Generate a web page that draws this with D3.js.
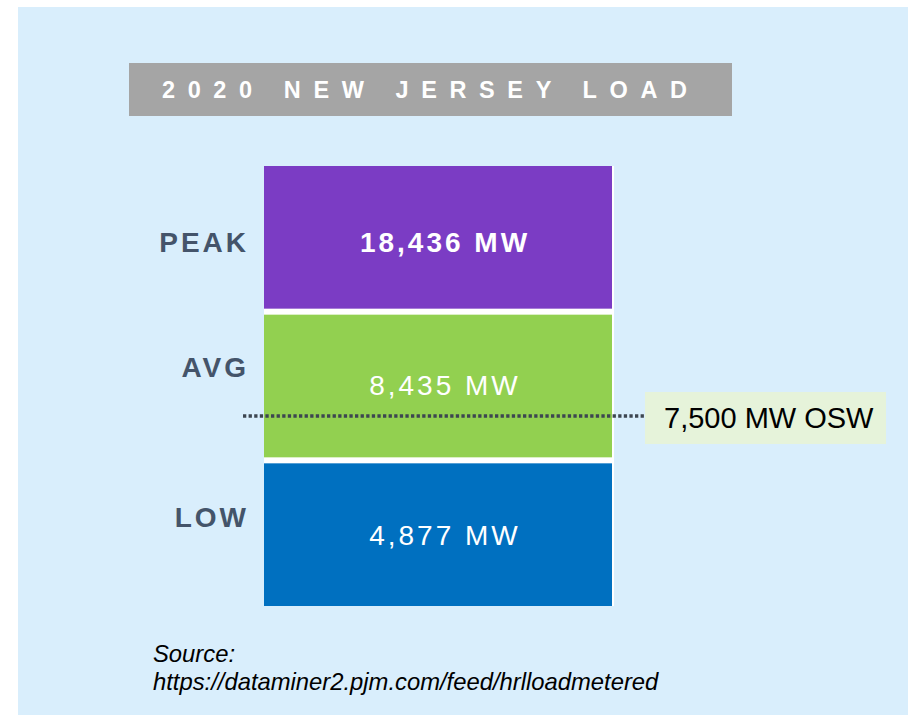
<!DOCTYPE html>
<html>
<head>
<meta charset="utf-8">
<script src="https://cdn.jsdelivr.net/npm/d3@7"></script>
<style>
  body { margin: 0; background: #ffffff; }
  svg { display: block; font-family: "Liberation Sans", Arial, sans-serif; }
</style>
</head>
<body>
<div id="container"><svg></svg></div>
<script>
let width = 908;
let height = 716;

// data
let title = "2020 NEW JERSEY LOAD";
let categories = ["PEAK", "AVG", "LOW"];
let loads = [18436, 8435, 4877];
let colors = ["#7b3cc4", "#92d050", "#0070c0"];
let osw = 7500;
let sourceLines = ["Source:", "https://dataminer2.pjm.com/feed/hrlloadmetered"];

let fmt = d3.format(",");

function draw_chart() {
    let svg = d3.select('#container')
        .select('svg')
        .attr('width', width)
        .attr('height', height);

    // panel background
    svg.append("rect")
        .attr("x", 18).attr("y", 7)
        .attr("width", width - 18).attr("height", 708)
        .attr("fill", "#d9eefc");

    // title bar
    svg.append("rect")
        .attr("x", 129).attr("y", 63)
        .attr("width", 603).attr("height", 53)
        .attr("fill", "#a5a5a5");
    svg.append("text")
        .attr("x", 162).attr("y", 98)
        .attr("fill", "#ffffff")
        .attr("font-size", 23.5)
        .attr("font-weight", "bold")
        .attr("letter-spacing", 12.6)
        .text(title);

    let y = d3.scaleBand()
        .domain(categories)
        .range([166, 606])
        .paddingInner(0.0404);

    let x0 = 264, boxW = 348;

    // white backing shows between the boxes
    svg.append("rect")
        .attr("x", x0).attr("y", 166)
        .attr("width", boxW + 2).attr("height", 440)
        .attr("fill", "#ffffff");

    let rows = categories.map((c, i) => ({cat: c, val: loads[i], color: colors[i]}));

    svg.append("g")
        .selectAll("rect")
        .data(rows)
        .join("rect")
        .attr("x", x0)
        .attr("y", d => y(d.cat))
        .attr("width", boxW)
        .attr("height", y.bandwidth())
        .attr("fill", d => d.color);

    // category labels, slightly above centre except peak
    let labelOff = {PEAK: 0.60, AVG: 0.44, LOW: 0.445};
    svg.append("g")
        .selectAll("text")
        .data(rows)
        .join("text")
        .attr("x", 249)
        .attr("y", d => y(d.cat) + y.bandwidth() * labelOff[d.cat])
        .attr("text-anchor", "end")
        .attr("fill", "#44546a")
        .attr("font-size", 28)
        .attr("font-weight", "bold")
        .attr("letter-spacing", 3)
        .text(d => d.cat);

    // values in the boxes
    let valOff = {PEAK: 0.60, AVG: 0.565, LOW: 0.575};
    svg.append("g")
        .selectAll("text")
        .data(rows)
        .join("text")
        .attr("x", x0 + boxW / 2 + 7)
        .attr("y", d => y(d.cat) + y.bandwidth() * valOff[d.cat])
        .attr("text-anchor", "middle")
        .attr("fill", "#ffffff")
        .attr("font-size", 28)
        .attr("font-weight", d => d.cat == "PEAK" ? "bold" : "normal")
        .attr("letter-spacing", 3)
        .text(d => fmt(d.val) + " MW");

    // offshore wind reference line, placed inside the AVG box
    let yOsw = y("AVG") + y.bandwidth() * 0.71;
    svg.append("line")
        .attr("x1", 243).attr("x2", 645)
        .attr("y1", yOsw).attr("y2", yOsw)
        .attr("stroke", "#3d4650")
        .attr("stroke-width", 3.5)
        .attr("stroke-dasharray", "3.3,2.3");

    svg.append("rect")
        .attr("x", 645).attr("y", 392)
        .attr("width", 241).attr("height", 52)
        .attr("fill", "#e6f3da");
    svg.append("text")
        .attr("x", 664).attr("y", 428)
        .attr("fill", "#000000")
        .attr("font-size", 29)
        .text(fmt(osw) + " MW OSW");

    // source note
    svg.append("g")
        .selectAll("text")
        .data(sourceLines)
        .join("text")
        .attr("x", 153)
        .attr("y", (d, i) => 662 + i * 28)
        .attr("fill", "#000000")
        .attr("font-size", 23.8)
        .attr("font-style", "italic")
        .text(d => d);
}

draw_chart();
</script>
</body>
</html>
